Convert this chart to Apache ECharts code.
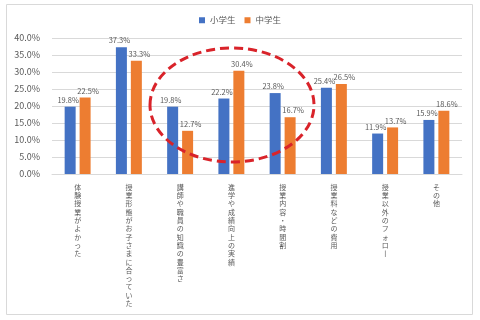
<!DOCTYPE html>
<html>
<head>
<meta charset="utf-8">
<script src="https://cdn.jsdelivr.net/npm/echarts@6/dist/echarts.min.js"></script>
<style>
  html, body { margin: 0; padding: 0; background: #fff; }
  #chart { width: 480px; height: 320px; }
</style>
</head>
<body>
<div id="chart"></div>
<script>
const categories = [
  '体験授業がよかった',
  '授業形態がお子さまに合っていた',
  '講師や職員の知識の豊富さ',
  '進学や成績向上の実績',
  '授業内容・時間割',
  '授業料などの費用',
  '授業以外のフォロー',
  'その他'
]
const elementary = [19.8, 37.3, 19.8, 22.2, 23.8, 25.4, 11.9, 15.9]
const juniorHigh = [22.5, 33.3, 12.7, 30.4, 16.7, 26.5, 13.7, 18.6]
const seriesNames = ['小学生', '中学生']

// 縦書き: 1文字ずつ改行、長音は縦棒に
const toVertical = (s) => s.split('').map(c => c === 'ー' ? '丨' : c).join('\n')

const font = '"Noto Sans CJK JP", "Noto Sans", sans-serif'
const chart = echarts.init(document.getElementById('chart'))
const labelStyle = (dx) => ({
  show: true,
  position: 'top',
  distance: 3,
  offset: [dx, 0],
  fontSize: 7.5,
  color: '#595959',
  fontFamily: font,
  formatter: (p) => p.value.toFixed(1) + '%'
})
chart.setOption({
  animation: false,
  textStyle: { fontFamily: font },
  graphic: [
    {
      type: 'rect',
      shape: { x: 6.5, y: 4.5, width: 466, height: 310 },
      style: { fill: 'none', stroke: '#d9d9d9', lineWidth: 1 },
      z: -1
    },
    {
      type: 'ellipse',
      shape: { cx: 232, cy: 105, rx: 82, ry: 57 },
      style: { fill: 'none', stroke: '#d9232a', lineWidth: 3, lineDash: [9, 5] },
      z: 100
    }
  ],
  legend: {
    data: seriesNames,
    top: 11,
    left: 'center',
    itemWidth: 6,
    itemHeight: 6,
    itemGap: 9,
    icon: 'rect',
    textStyle: { fontSize: 8.5, color: '#595959', fontFamily: font }
  },
  grid: {
    top: 38,
    left: 52,
    right: 18,
    bottom: 146,
    containLabel: false
  },
  xAxis: {
    type: 'category',
    data: categories,
    axisTick: { show: false },
    axisLine: { lineStyle: { color: '#d9d9d9' } },
    axisLabel: {
      interval: 0,
      margin: 9,
      fontSize: 7,
      lineHeight: 8.3,
      color: '#595959',
      verticalAlign: 'top',
      formatter: (v) => toVertical(v)
    }
  },
  yAxis: {
    type: 'value',
    min: 0,
    max: 40,
    interval: 5,
    axisLine: { show: false },
    axisTick: { show: false },
    splitLine: { lineStyle: { color: '#d9d9d9' } },
    axisLabel: {
      fontSize: 9,
      color: '#595959',
      margin: 12,
      formatter: (v) => v.toFixed(1) + '%'
    }
  },
  series: [
    {
      name: seriesNames[0],
      type: 'bar',
      data: elementary,
      barWidth: 11,
      barGap: '36%',
      itemStyle: { color: '#4472c4' },
      label: labelStyle(-2)
    },
    {
      name: seriesNames[1],
      type: 'bar',
      data: juniorHigh,
      barWidth: 11,
      barGap: '36%',
      itemStyle: { color: '#ed7d31' },
      label: labelStyle(3)
    }
  ]
})
</script>
</body>
</html>
